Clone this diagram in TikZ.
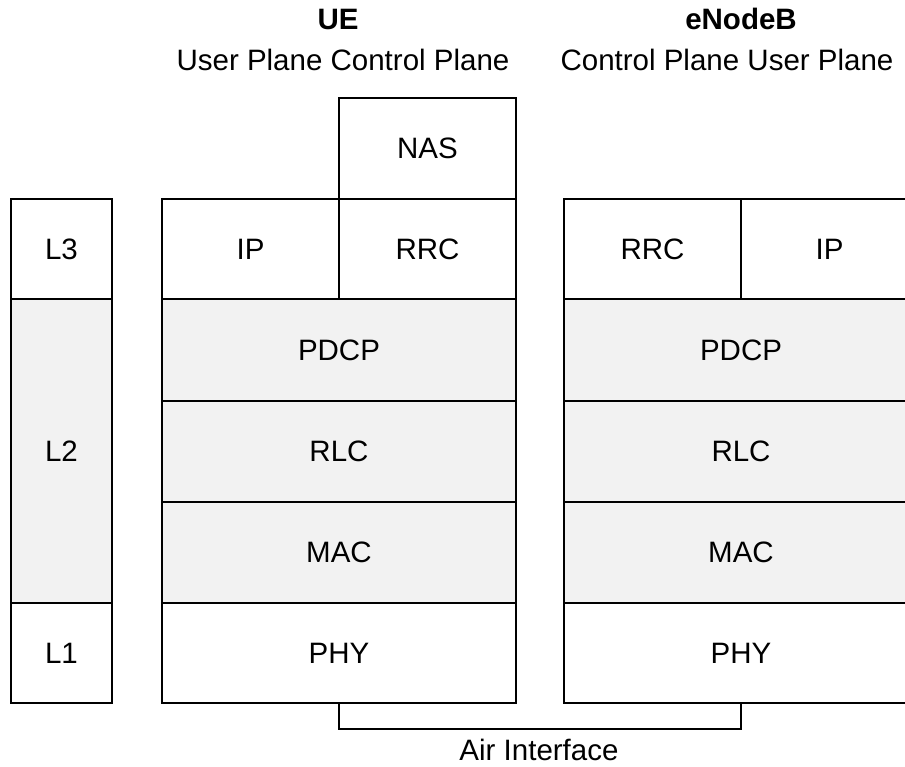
\documentclass[tikz,border=0pt]{standalone}
\usepackage{fontspec}
\setmainfont{Liberation Sans}
\begin{document}
\begin{tikzpicture}[x=1pt,y=-1pt,
  every node/.style={font=\fontsize{29.5}{34}\selectfont},
  cell/.style={draw, line width=2pt, inner sep=0pt, anchor=north west},
  shaded/.style={cell, fill=black!5},
  half/.style={minimum width=177pt, minimum height=100pt},
  full/.style={minimum width=354pt, minimum height=101pt},
  layer/.style={minimum width=101pt},
  title/.style={font=\fontsize{29.5}{34}\selectfont\bfseries},
  link/.style={draw, line width=2pt}]
\useasboundingbox (0,0) rectangle (905,767);

% layer column
\node[cell, layer, minimum height=100pt] (l3) at (10,198) {L3};
\node[shaded, layer, minimum height=304pt] (l2) at (10,298) {L2};
\node[cell, layer, minimum height=100pt] (l1) at (10,602) {L1};

% UE stack
\node[cell, half, minimum height=101pt] (nas) at (338,97) {NAS};
\node[cell, half] (ueip) at (161,198) {IP};
\node[cell, half] (uerrc) at (338,198) {RRC};
\node[shaded, full, minimum height=102pt] (uepdcp) at (161,298) {PDCP};
\node[shaded, full] (uerlc) at (161,400) {RLC};
\node[shaded, full] (uemac) at (161,501) {MAC};
\node[cell, full, minimum height=100pt] (uephy) at (161,602) {PHY};

% eNodeB stack
\node[cell, half] (enbrrc) at (563,198) {RRC};
\node[cell, half] (enbip) at (740,198) {IP};
\node[shaded, full, minimum height=102pt] (enbpdcp) at (563,298) {PDCP};
\node[shaded, full] (enbrlc) at (563,400) {RLC};
\node[shaded, full] (enbmac) at (563,501) {MAC};
\node[cell, full, minimum height=100pt] (enbphy) at (563,602) {PHY};

% headings
\node[title] (uetitle) at (338,19) {UE};
\node (ueplanes) at (343,60) {User Plane Control Plane};
\node[title] (enbtitle) at (741,19) {eNodeB};
\node (enbplanes) at (727,60) {Control Plane User Plane};

% air interface bracket
\draw[link] (uephy.south) -- ++(0,25) coordinate (airl) -| (enbphy.south);
\node (air) at (539,750) {Air Interface};
\end{tikzpicture}
\end{document}
